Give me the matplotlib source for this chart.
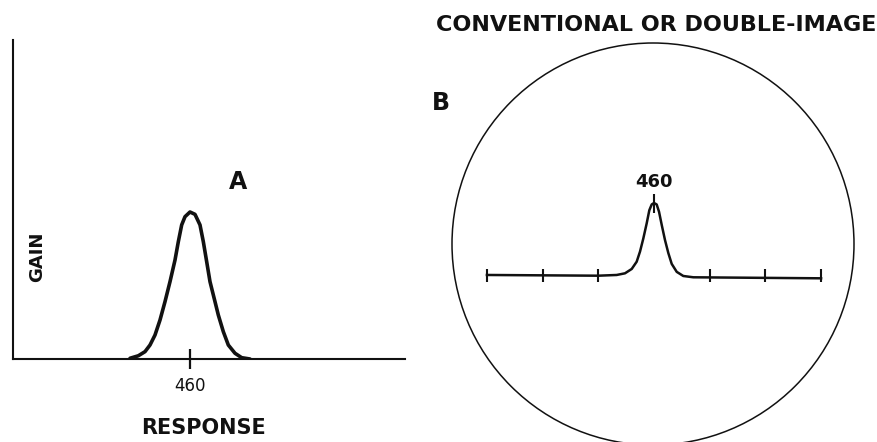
import matplotlib
matplotlib.use("Agg")
import matplotlib.pyplot as plt
from matplotlib.patches import Ellipse

# panel A: gain curve (response in nm, gain relative to peak)
A_RESPONSE = [445.0, 447.08, 448.75, 450.0, 451.25, 452.5, 453.75, 455.0, 456.25,
              457.08, 457.92, 458.75, 460.0, 461.25, 462.5, 463.33, 464.17, 465.0,
              466.25, 467.08, 468.33, 469.58, 471.25, 472.92, 475.0]
A_GAIN = [0.005, 0.022, 0.050, 0.095, 0.163, 0.265, 0.390, 0.526, 0.673,
          0.798, 0.912, 0.968, 1.0, 0.984, 0.912, 0.798, 0.662, 0.526,
          0.390, 0.299, 0.186, 0.095, 0.039, 0.009, 0.0]

# panel B: scope trace, flat baseline with a narrow peak at 460
B_RESPONSE = [430.0, 450.0, 453.30, 454.79, 456.0, 456.89, 457.49, 458.08, 458.69,
              459.16, 459.59, 460.0, 460.48, 460.90, 461.38, 461.97, 462.57,
              463.18, 464.08, 465.26, 467.06, 490.0]
B_GAIN = [0.007, -0.003, 0.007, 0.03, 0.09, 0.19, 0.33, 0.51, 0.72,
          0.90, 0.98, 1.0, 0.98, 0.88, 0.70, 0.49, 0.31,
          0.16, 0.05, -0.007, -0.025, -0.039]
B_TICKS = [430, 440, 450, 470, 480, 490]
PEAK = 460

INK = "#111111"
W, H = 877, 442

plt.rcParams['font.family'] = ['DejaVu Sans']
fig = plt.figure(figsize=(W / 100, H / 100), dpi=100)

# ---- panel A ----
axA = fig.add_axes([13 / W, (H - 359) / H, 392 / W, 319 / H])
axA.plot(A_RESPONSE, A_GAIN, color=INK, lw=2.6, solid_joinstyle="round",
         solid_capstyle="round")
axA.set_xlim(415.75, 513.75)
axA.set_ylim(0, 2.17)
for s in ["top", "right"]:
    axA.spines[s].set_visible(False)
for s in ["left", "bottom"]:
    axA.spines[s].set_linewidth(1.5)
    axA.spines[s].set_color(INK)
axA.set_yticks([])
axA.set_xticks([PEAK])
axA.set_xticklabels([str(PEAK)])
axA.tick_params(axis="x", direction="inout", length=14, width=1.6, pad=6,
                labelsize=12, colors=INK)
axA.set_xlabel("RESPONSE", fontsize=15, fontweight="bold", color=INK)
axA.xaxis.set_label_coords(0.485, -0.185)
axA.xaxis.label.set_va("top")
axA.text(0.061, 0.32, "GAIN", rotation=90, ha="center", va="center",
         fontsize=13, fontweight="bold", color=INK, transform=axA.transAxes)
axA.text(0.574, 0.555, "A", ha="center", va="center", fontsize=17,
         fontweight="bold", color=INK, transform=axA.transAxes)

# ---- panel B ----
axB = fig.add_axes([430 / W, 0, 447 / W, 1])
axB.axis("off")
axB.set_xlim(419.78, 500.04)
axB.set_ylim(-2.297, 3.8)
axB.plot(B_RESPONSE, B_GAIN, color=INK, lw=1.8, solid_joinstyle="round")
axB.vlines(B_TICKS, -0.09, 0.09, color=INK, lw=1.5)
axB.vlines([PEAK], 0.86, 1.13, color=INK, lw=1.5)
axB.text(PEAK, 1.29, str(PEAK), ha="center", va="center", fontsize=13,
         fontweight="bold", color=INK)

fig.add_artist(Ellipse((653 / W, 1 - 244 / H), 402 / W, 402 / H,
                       transform=fig.transFigure, fill=False, ec=INK, lw=1.1))
fig.text(656 / W, 1 - 25 / H, "CONVENTIONAL OR DOUBLE-IMAGE", ha="center",
         va="center", fontsize=16, fontweight="bold", color=INK)
fig.text(441 / W, 1 - 103 / H, "B", ha="center", va="center", fontsize=17,
         fontweight="bold", color=INK)

fig.savefig("out.png", dpi=100)
